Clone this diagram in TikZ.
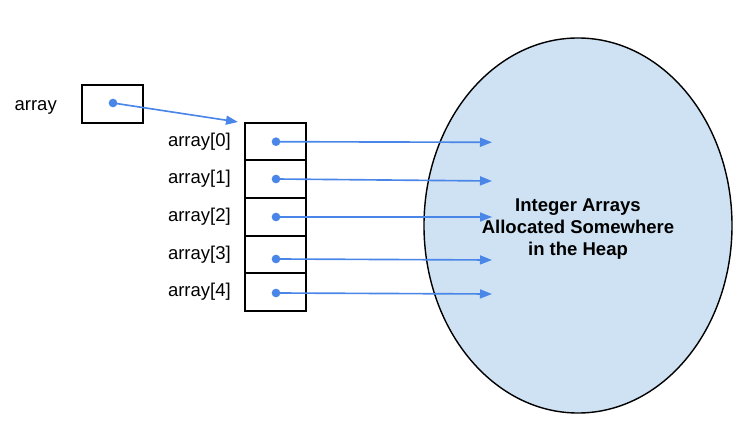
\documentclass[tikz,border=0pt]{standalone}
\usepackage{fontspec}
\setmainfont{Liberation Sans}
\usepackage{tikz}
\usetikzlibrary{shapes.geometric,arrows.meta,positioning}
\definecolor{RefBlue}{RGB}{74,134,232}
\definecolor{HeapFill}{RGB}{207,226,243}

\begin{document}
\begin{tikzpicture}[x=0.03cm,y=-0.03cm,
  cell/.style={draw=black,line width=1.7pt,minimum width=1.83cm,minimum height=1.13cm,
               inner sep=0pt,outer sep=0pt},
  lbl/.style={inner sep=0pt,font=\fontsize{15.8}{19}\selectfont},
  dot/.style={circle,fill=RefBlue,minimum size=0.26cm,inner sep=0pt},
  ref/.style={draw=RefBlue,line width=1.4pt,-{Triangle[length=0.36cm,width=0.27cm]}},
  heap/.style={ellipse,draw=black,line width=1.2pt,fill=HeapFill,
               minimum width=9.24cm,minimum height=11.25cm},
]
\useasboundingbox (0,0) rectangle (747,425);
% the heap
\node[heap] (heap) at (578,225.5) {};
% the pointer variable
\node[cell] (var) at (112.5,104) {};
\node[lbl,left=0.75cm of var,yshift=-0.1cm] (varlbl) {array};
\node[dot] (vdot) at (113,103) {};
\coordinate (vtip) at (238,122);
\draw[ref] (vdot.center) -- (vtip);
% the array of references
\node[cell] (c0) at (275.5,141.5) {};
\node[cell,below=0pt of c0] (c1) {};
\node[cell,below=0pt of c1] (c2) {};
\node[cell,below=0pt of c2] (c3) {};
\node[cell,below=0pt of c3] (c4) {};
\node[lbl,left=0.42cm of c0] (l0) {array[0]};
\node[lbl,left=0.42cm of c1] (l1) {array[1]};
\node[lbl,left=0.42cm of c2] (l2) {array[2]};
\node[lbl,left=0.42cm of c3] (l3) {array[3]};
\node[lbl,left=0.42cm of c4] (l4) {array[4]};
\node[dot] (d0) at (276,141.7) {};
\node[dot] (d1) at (276,179) {};
\node[dot] (d2) at (276,217) {};
\node[dot] (d3) at (276,259) {};
\node[dot] (d4) at (276,293) {};
\coordinate (t0) at (492,142.3);
\coordinate (t1) at (492,181);
\coordinate (t2) at (492,217);
\coordinate (t3) at (492,260);
\coordinate (t4) at (492,294);
\draw[ref] (d0.center) -- (t0);
\draw[ref] (d1.center) -- (t1);
\draw[ref] (d2.center) -- (t2);
\draw[ref] (d3.center) -- (t3);
\draw[ref] (d4.center) -- (t4);
\node[lbl,align=center,font=\fontsize{15.8}{18.8}\selectfont\bfseries] (heaplbl) at (578,229)
  {Integer Arrays\\Allocated Somewhere\\in the Heap};
\end{tikzpicture}
\end{document}
